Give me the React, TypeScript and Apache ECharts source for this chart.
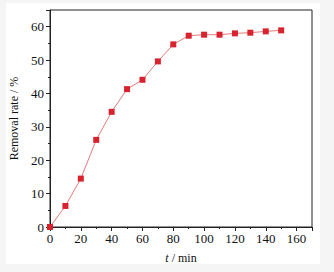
import React, { useEffect, useRef } from "react";
import * as echarts from "echarts";

const times = [0, 10, 20, 30, 40, 50, 60, 70, 80, 90, 100, 110, 120, 130, 140, 150];
const removal = [0, 6.3, 14.5, 26.1, 34.5, 41.3, 44.1, 49.6, 54.7, 57.3, 57.6, 57.6, 58.0, 58.2, 58.6, 58.9];
const xTicks = [0, 20, 40, 60, 80, 100, 120, 140, 160];
const yTicks = [0, 10, 20, 30, 40, 50, 60];

const FONT = "'Liberation Serif', 'Times New Roman', serif";

export default function App() {
  const ref = useRef<HTMLDivElement>(null);
  useEffect(() => {
    if (!ref.current) return;
    const chart = echarts.init(ref.current, null, { renderer: "svg" });
    chart.setOption({
      animation: false,
      backgroundColor: "#f5f5f5",
      graphic: [
        {
          type: "rect",
          shape: { x: 6, y: 3, width: 314, height: 261 },
          style: { fill: "#ffffff" },
          z: -10,
          silent: true,
        },
      ],
      grid: {
        left: 50,
        right: 22,
        top: 10,
        bottom: 45,
        show: true,
        borderColor: "#222",
        borderWidth: 1,
        backgroundColor: "#ffffff",
      },
      xAxis: {
        type: "value",
        min: 0,
        max: 170,
        interval: 20,
        name: "{i|t} / min",
        nameLocation: "middle",
        nameGap: 25,
        nameTextStyle: {
          fontFamily: FONT,
          fontSize: 12,
          color: "#111",
          rich: { i: { fontStyle: "italic", fontFamily: FONT, fontSize: 12, color: "#111" } },
        },
        axisLine: { onZero: false, lineStyle: { color: "#222", width: 1 } },
        axisTick: { show: true, inside: false, length: 4, lineStyle: { color: "#222" } },
        minorTick: { show: true, splitNumber: 2, length: 2, lineStyle: { color: "#222" } },
        axisLabel: {
          fontFamily: FONT,
          fontSize: 13,
          color: "#111",
          margin: 5,
          formatter: (v: number) => (xTicks.includes(v) ? String(v) : ""),
        },
        splitLine: { show: false },
      },
      yAxis: {
        type: "value",
        min: 0,
        max: 65,
        interval: 10,
        name: "Removal rate / %",
        nameLocation: "middle",
        nameGap: 28,
        nameTextStyle: { fontFamily: FONT, fontSize: 12, color: "#111" },
        axisLine: { show: true, onZero: false, lineStyle: { color: "#222", width: 1 } },
        axisTick: { show: true, inside: false, length: 4, lineStyle: { color: "#222" } },
        minorTick: { show: true, splitNumber: 2, length: 2, lineStyle: { color: "#222" } },
        axisLabel: {
          fontFamily: FONT,
          fontSize: 13,
          color: "#111",
          margin: 6,
          formatter: (v: number) => (yTicks.includes(v) ? String(v) : ""),
        },
        splitLine: { show: false },
      },
      series: [
        {
          type: "line",
          data: times.map((t, i) => [t, removal[i]]),
          symbol: "rect",
          symbolSize: 6,
          showAllSymbol: true,
          itemStyle: { color: "#d8232f" },
          lineStyle: { color: "#e77a7a", width: 1 },
          clip: false,
        },
      ],
    });
    return () => chart.dispose();
  }, []);
  return <div ref={ref} style={{ width: 334, height: 272, position: "absolute", left: 0, top: 0 }} />;
}
